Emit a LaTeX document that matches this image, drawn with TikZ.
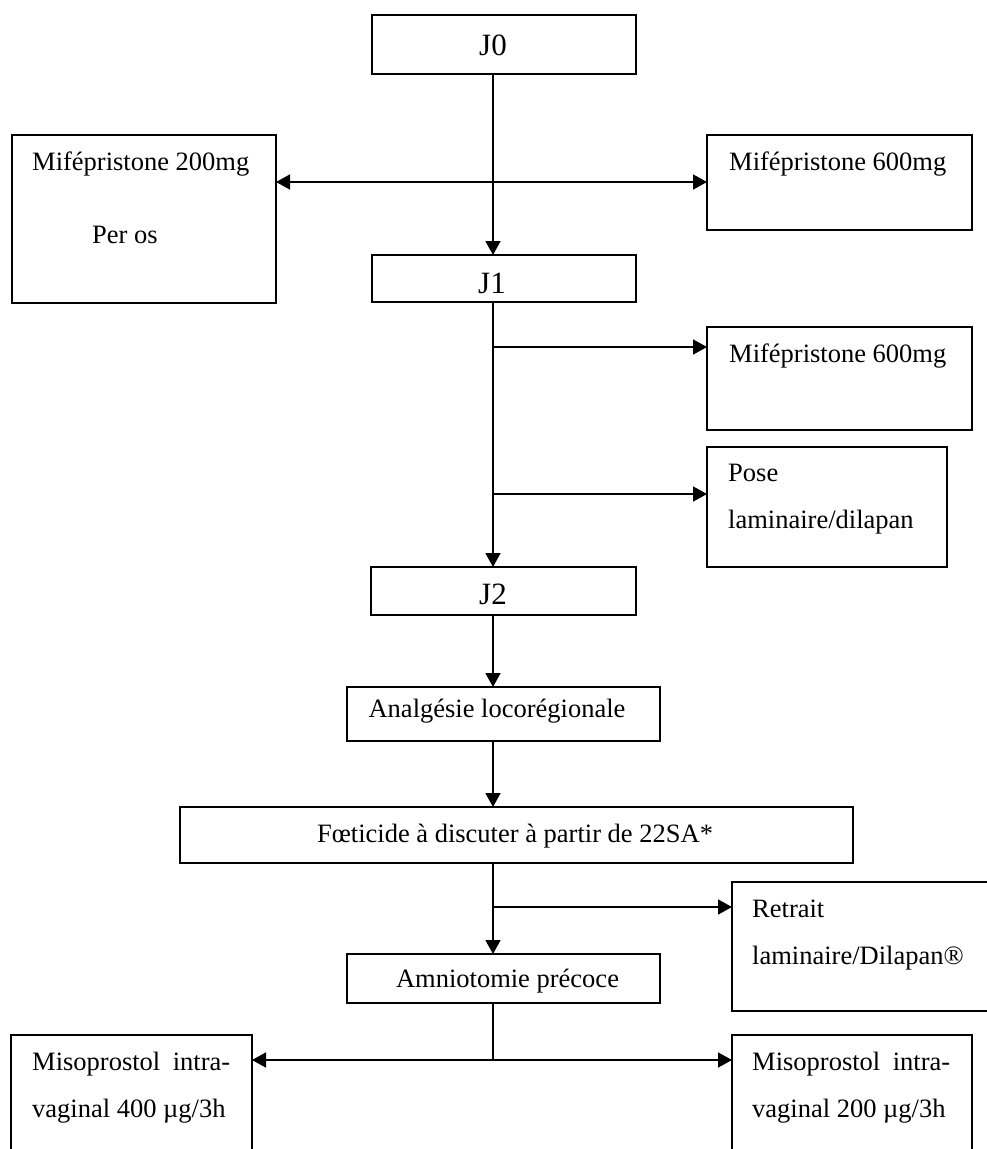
\documentclass[tikz,border=0pt]{standalone}
\usepackage{fontspec}
\setmainfont{Liberation Serif}
\usetikzlibrary{arrows.meta}

\begin{document}
\begin{tikzpicture}[x=1pt, y=-1pt,
    box/.style = {shape=rectangle, draw, line width=1.8pt, inner sep=0pt, outer sep=0pt},
    txt/.style = {inner sep=0pt, font=\fontsize{26.5}{46.5}\selectfont},
    big/.style = {inner sep=0pt, font=\fontsize{31}{36}\selectfont},
    arr/.style = {line width=1.6pt, -{Triangle[length=14pt, width=15pt]}},
    darr/.style = {line width=1.6pt, {Triangle[length=14pt, width=15pt]}-{Triangle[length=14pt, width=15pt]}},
    ln/.style = {line width=1.6pt}]
  \clip (0,0) rectangle (987,1149);
  % boxes
  \node[box, minimum width=264pt, minimum height=59pt] (j0) at (504,44.5) {};
  \node[box, minimum width=264pt, minimum height=168pt] (m200) at (144,219) {};
  \node[box, minimum width=265pt, minimum height=95pt] (m600a) at (839.5,182.5) {};
  \node[box, minimum width=264pt, minimum height=47pt] (j1) at (504,278.5) {};
  \node[box, minimum width=265pt, minimum height=103pt] (m600b) at (839.5,378.5) {};
  \node[box, minimum width=240pt, minimum height=120pt] (pose) at (827,507) {};
  \node[box, minimum width=265pt, minimum height=48pt] (j2) at (503.5,591) {};
  \node[box, minimum width=313pt, minimum height=54pt] (anal) at (503.5,714) {};
  \node[box, minimum width=673pt, minimum height=56pt] (foet) at (516.5,835) {};
  \node[box, minimum width=268pt, minimum height=129pt] (retr) at (866,946.5) {};
  \node[box, minimum width=313pt, minimum height=49pt] (amnio) at (503.5,978.5) {};
  \node[box, minimum width=241pt, minimum height=135pt] (miso4) at (131.5,1102.5) {};
  \node[box, minimum width=240pt, minimum height=135pt] (miso2) at (852,1102.5) {};
  % texts
  \node[big, anchor=base] (j0t) at (493,55) {J0};
  \node[txt, anchor=base west] (m200t) at (32,170) {Mifépristone 200mg};
  \node[txt, anchor=base west] (m200s) at (92,243) {Per os};
  \node[txt, anchor=base west] (m600at) at (729,170) {Mifépristone 600mg};
  \node[big, anchor=base] (j1t) at (492,293) {J1};
  \node[txt, anchor=base west] (m600bt) at (729,362) {Mifépristone 600mg};
  \node[txt, anchor=base west, align=left] (poset) at (728,528) {Pose\\laminaire/dilapan};
  \node[big, anchor=base] (j2t) at (493,604) {J2};
  \node[txt, anchor=base] (analt) at (497,717) {Analgésie locorégionale};
  \node[txt, anchor=base] (foett) at (515,842) {Fœticide à discuter à partir de 22SA*};
  \node[txt, anchor=base west, align=left] (retrt) at (752,964) {Retrait\\laminaire/Dilapan®};
  \node[txt, anchor=base] (amniot) at (507.5,987) {Amniotomie précoce};
  \node[txt, anchor=base west, align=left] (miso4t) at (32,1117) {\makebox[198pt][s]{Misoprostol intra-}\\vaginal 400 µg/3h};
  \node[txt, anchor=base west, align=left] (miso2t) at (752,1117) {\makebox[198pt][s]{Misoprostol intra-}\\vaginal 200 µg/3h};
  % connectors
  \coordinate (sp) at (493,0);
  \coordinate (h0) at (493,182);
  \coordinate (h1) at (493,347);
  \coordinate (h2) at (493,494);
  \coordinate (h3) at (493,907);
  \coordinate (h4) at (493,1060);
  \draw[arr] (j0.south -| sp) -- (j1.north -| sp);
  \draw[darr] (m200.east |- h0) -- (m600a.west |- h0);
  \draw[arr] (j1.south -| sp) -- (j2.north -| sp);
  \draw[arr] (h1) -- (h1 -| m600b.west);
  \draw[arr] (h2) -- (h2 -| pose.west);
  \draw[arr] (j2.south -| sp) -- (anal.north -| sp);
  \draw[arr] (anal.south -| sp) -- (foet.north -| sp);
  \draw[arr] (foet.south -| sp) -- (amnio.north -| sp);
  \draw[arr] (h3) -- (h3 -| retr.west);
  \draw[ln] (amnio.south -| sp) -- (h4);
  \draw[arr] (h4) -- (h4 -| miso4.east);
  \draw[arr] (h4) -- (h4 -| miso2.west);
\end{tikzpicture}
\end{document}
